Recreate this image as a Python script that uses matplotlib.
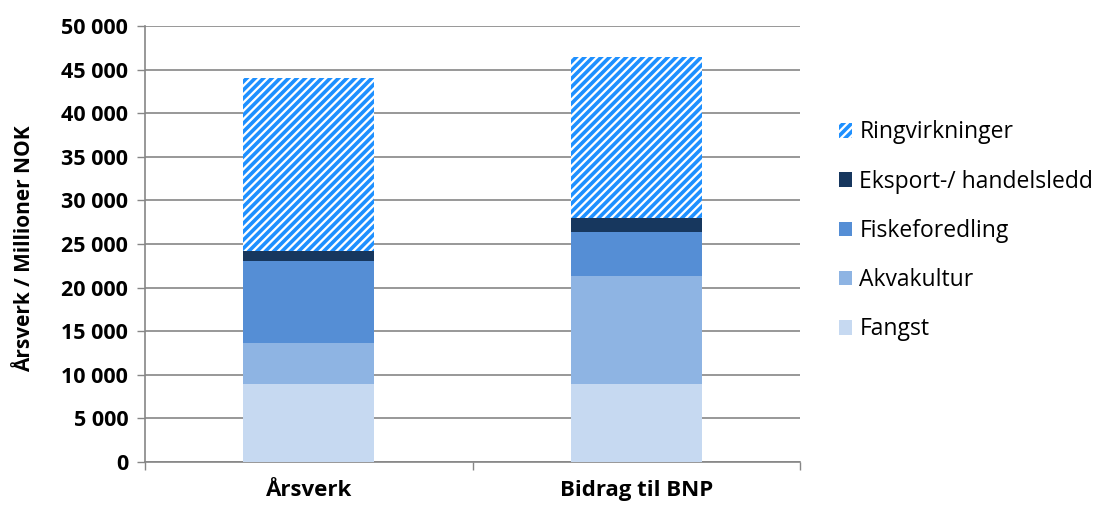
import matplotlib.pyplot as plt
from matplotlib.ticker import FuncFormatter, FixedLocator
import numpy as np

plt.rcParams['font.family'] = ['Open Sans', 'DejaVu Sans']
plt.rcParams['font.weight'] = 'bold'
plt.rcParams['hatch.linewidth'] = 2.6

categories = ['Årsverk', 'Bidrag til BNP']
fangst = [9000, 9000]
akvakultur = [4700, 12330]
fiskeforedling = [9300, 5080]
eksport = [1250, 1610]
ringvirkninger = [19830, 18420]

series = [
    ('Fangst', fangst, '#C6D9F1', None),
    ('Akvakultur', akvakultur, '#8EB4E3', None),
    ('Fiskeforedling', fiskeforedling, '#558ED5', None),
    ('Eksport-/ handelsledd', eksport, '#17375E', None),
    ('Ringvirkninger', ringvirkninger, 'white', '////'),
]

fig = plt.figure(figsize=(11.02, 5.08), dpi=100)
ax = fig.add_axes([0.1316, 0.0906, 0.5944, 0.8582])

x = np.arange(len(categories))
bottom = np.zeros(len(categories))
handles = []
for name, vals, color, hatch in series:
    if hatch:
        b = ax.bar(x, vals, 0.40, bottom=bottom, color=color, hatch=hatch,
                   edgecolor='#1E90FF', linewidth=0, label=name, zorder=3)
    else:
        b = ax.bar(x, vals, 0.40, bottom=bottom, color=color, linewidth=0,
                   label=name, zorder=3)
    handles.append(b)
    bottom += np.array(vals)

ax.set_xlim(-0.5, 1.5)
ax.set_ylim(0, 50000)
ax.set_yticks(np.arange(0, 50001, 5000))
ax.yaxis.set_major_formatter(FuncFormatter(lambda v, p: f'{int(v):,}'.replace(',', ' ')))
ax.set_xticks(x)
ax.set_xticklabels(categories, fontsize=16, fontweight='bold')
ax.xaxis.set_minor_locator(FixedLocator([-0.5, 0.5, 1.5]))
ax.tick_params(axis='x', which='major', length=0, pad=13)
ax.tick_params(axis='x', which='minor', length=6, color='#868686', width=1)
ax.tick_params(axis='y', length=6, color='#868686', width=1, labelsize=15.5, pad=6)

ax.grid(axis='y', color='#868686', linewidth=1.2, zorder=0)
for s in ['top', 'right']:
    ax.spines[s].set_visible(False)
for s in ['left', 'bottom']:
    ax.spines[s].set_color('#868686')
    ax.spines[s].set_linewidth(1.2)

ax.set_ylabel('Årsverk / Millioner NOK', fontsize=15, fontweight='bold')
ax.yaxis.set_label_coords(-0.168, 0.49)

leg = ax.legend(handles[::-1], [s[0] for s in series][::-1], loc='center left',
                bbox_to_anchor=(1.045, 0.53), frameon=False,
                prop={'size': 16.5, 'weight': 'normal'},
                handlelength=0.6, handleheight=0.6, handletextpad=0.3,
                labelspacing=1.1, borderaxespad=0)

fig.savefig('out.png', dpi=100)
